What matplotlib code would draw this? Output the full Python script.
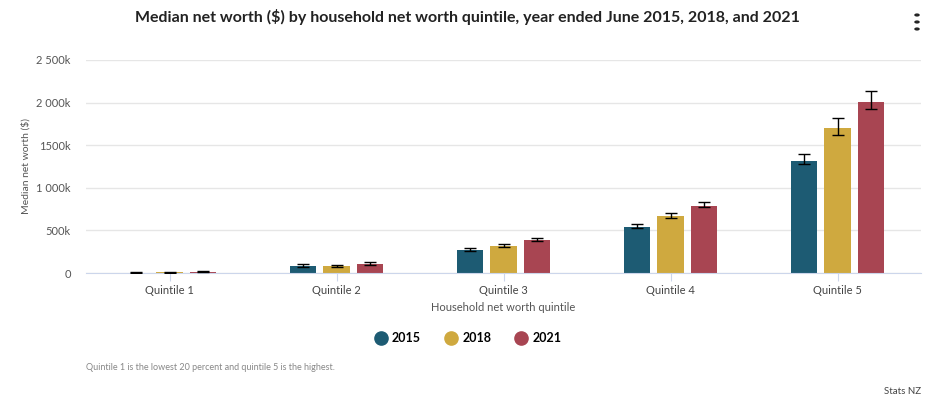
import matplotlib
matplotlib.use("Agg")
import matplotlib.pyplot as plt
import numpy as np
from matplotlib.lines import Line2D

categories = ["Quintile 1", "Quintile 2", "Quintile 3", "Quintile 4", "Quintile 5"]
years = ["2015", "2018", "2021"]
v2015 = [5, 82, 272, 540, 1315]
v2018 = [6, 84, 322, 669, 1705]
v2021 = [16, 108, 389, 788, 2010]
lo2015 = [2, 72, 262, 525, 1276]
hi2015 = [8, 100, 290, 570, 1393]
lo2018 = [3, 76, 310, 650, 1616]
hi2018 = [9, 98, 338, 702, 1816]
lo2021 = [12, 98, 372, 770, 1921]
hi2021 = [22, 126, 408, 830, 2133]
yticks = [0, 500, 1000, 1500, 2000, 2500]
ytick_labels = ["0", "500k", "1 000k", "1500k", "2 000k", "2 500k"]
colors = ["#1d5b73", "#cfa93f", "#a84552"]

plt.rcParams["font.family"] = ["Lato", "DejaVu Sans"]

fig = plt.figure(figsize=(9.31, 4.09), dpi=100)
ax = fig.add_axes([86/931, 1-273/409, 835/931, 213/409])

x = np.arange(len(categories))
width = 0.156
offs = [-0.2, 0.0, 0.2]
vals = [v2015, v2018, v2021]
los = [lo2015, lo2018, lo2021]
his = [hi2015, hi2018, hi2021]
for i in range(3):
    v = np.array(vals[i]); lo = np.array(los[i]); hi = np.array(his[i])
    ax.bar(x + offs[i], v, width, color=colors[i], zorder=2)
    ax.errorbar(x + offs[i], v, yerr=[v - lo, hi - v], fmt="none", ecolor="black",
                elinewidth=1, capsize=4.5, capthick=1, zorder=3)

ax.set_xlim(-0.5, 4.5)
ax.set_ylim(0, 2500)
ax.set_yticks(yticks)
ax.set_yticklabels(ytick_labels)
ax.set_xticks(x)
ax.set_xticklabels(categories)
ax.grid(axis="y", color="#e6e6e6", linewidth=1, zorder=0)
ax.set_axisbelow(True)
for s in ["top", "right", "left"]:
    ax.spines[s].set_visible(False)
ax.spines["bottom"].set_color("#ccd6eb")
ax.tick_params(axis="y", length=0, labelsize=8, labelcolor="#555555", pad=11)
ax.tick_params(axis="x", length=6, color="#ccd6eb", labelsize=8, labelcolor="#444444", pad=3)
ax.set_xlabel("Household net worth quintile", fontsize=8, color="#555555", labelpad=4)
ax.set_ylabel("Median net worth ($)", fontsize=7.5, color="#555555", labelpad=4)

fig.text(467/931, 1-17/409, "Median net worth ($) by household net worth quintile, year ended June 2015, 2018, and 2021",
         ha="center", va="center", fontsize=11.5, fontweight="bold", color="#222222")

handles = [Line2D([0], [0], marker="o", linestyle="none", markersize=9.5,
                  markerfacecolor=c, markeredgecolor=c) for c in colors]
fig.legend(handles, years, loc="center", bbox_to_anchor=(468/931, 1-338/409), ncol=3,
           frameon=False, prop={"size": 9, "weight": "bold"}, handletextpad=0.4,
           columnspacing=1.9, handlelength=1.0)

fig.text(86/931, 1-368/409, "Quintile 1 is the lowest 20 percent and quintile 5 is the highest.",
         ha="left", va="center", fontsize=6.5, color="#888888")
fig.text(921/931, 1-392/409, "Stats NZ", ha="right", va="center", fontsize=7, color="#444444")
for yy in [15, 22, 29]:
    fig.patches.append(plt.Circle((917/931, 1-yy/409), 2.0/931, transform=fig.transFigure,
                                  color="#222222"))

fig.savefig("out.png", dpi=100)
